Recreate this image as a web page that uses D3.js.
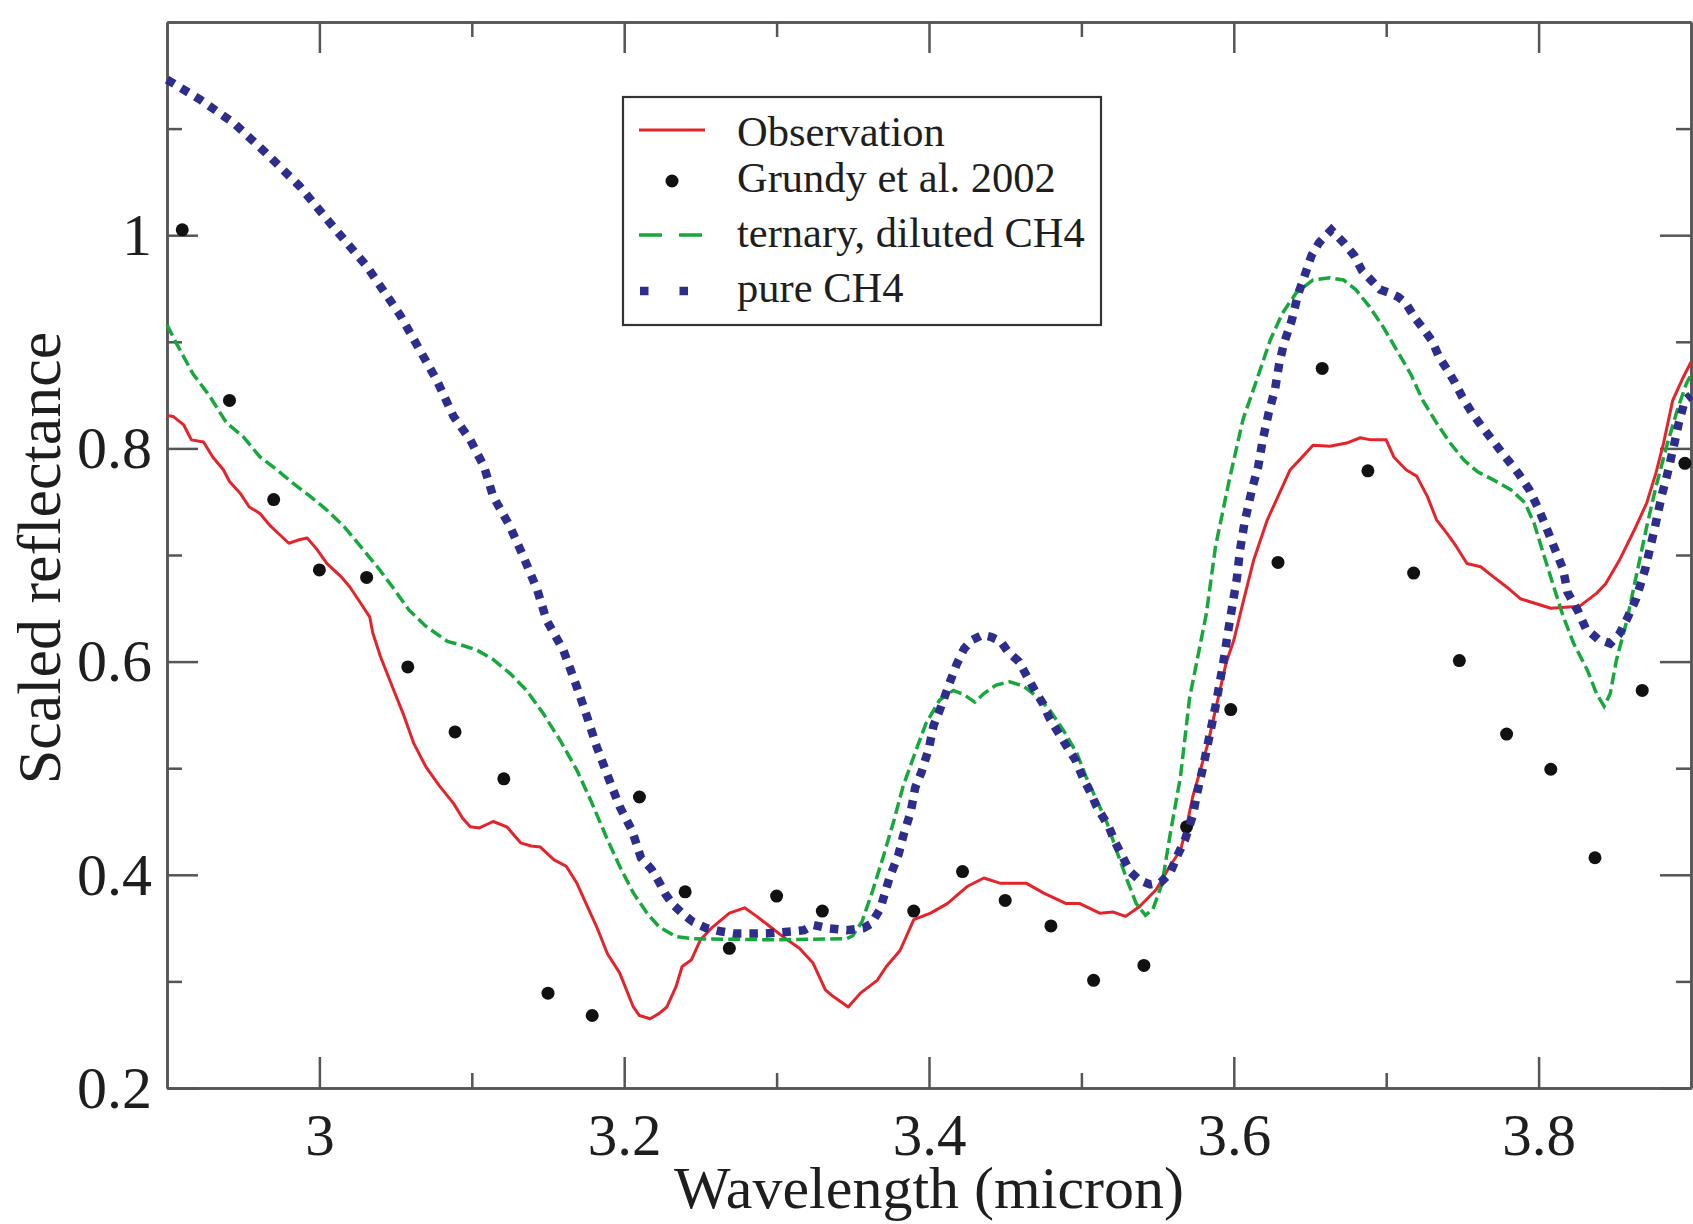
<!DOCTYPE html>
<html>
<head>
<meta charset="utf-8">
<script src="https://cdnjs.cloudflare.com/ajax/libs/d3/7.8.5/d3.min.js"></script>
<style>
  html, body { margin: 0; padding: 0; background: #fff; }
  #chart text { font-family: "Liberation Serif", "DejaVu Serif", serif; fill: #1e1e1e; }
</style>
</head>
<body>
<div id="chart"></div>
<script>

// wavelength (micron), scaled reflectance
var observation = [
  [2.900,0.831],[2.904,0.830],[2.911,0.822],[2.916,0.808],[2.924,0.806],[2.930,0.792],[2.937,0.780],[2.941,0.769],
  [2.948,0.758],[2.954,0.745],[2.961,0.739],[2.968,0.727],[2.974,0.719],[2.980,0.711],[2.986,0.714],[2.992,0.716],
  [2.998,0.706],[3.005,0.692],[3.014,0.680],[3.020,0.670],[3.027,0.655],[3.033,0.642],[3.035,0.627],[3.040,0.605],
  [3.048,0.576],[3.055,0.551],[3.062,0.523],[3.070,0.501],[3.079,0.483],[3.088,0.467],[3.094,0.453],[3.099,0.445],
  [3.105,0.444],[3.114,0.450],[3.123,0.445],[3.132,0.430],[3.139,0.427],[3.145,0.426],[3.154,0.414],[3.162,0.408],
  [3.169,0.392],[3.175,0.373],[3.182,0.351],[3.189,0.326],[3.197,0.308],[3.206,0.276],[3.210,0.268],[3.217,0.265],
  [3.223,0.270],[3.228,0.276],[3.234,0.295],[3.238,0.314],[3.244,0.320],[3.250,0.339],[3.258,0.351],[3.269,0.364],
  [3.279,0.369],[3.287,0.361],[3.296,0.351],[3.307,0.339],[3.315,0.331],[3.324,0.317],[3.332,0.292],[3.337,0.286],
  [3.347,0.276],[3.355,0.289],[3.366,0.301],[3.372,0.314],[3.381,0.329],[3.390,0.358],[3.401,0.364],[3.412,0.373],
  [3.425,0.389],[3.436,0.397],[3.447,0.392],[3.464,0.392],[3.475,0.383],[3.490,0.373],[3.499,0.373],[3.512,0.364],
  [3.521,0.365],[3.529,0.361],[3.538,0.370],[3.549,0.386],[3.558,0.408],[3.565,0.423],[3.569,0.445],[3.573,0.473],
  [3.578,0.498],[3.583,0.523],[3.588,0.555],[3.595,0.599],[3.600,0.620],[3.606,0.655],[3.613,0.695],[3.622,0.733],
  [3.630,0.758],[3.637,0.780],[3.643,0.789],[3.652,0.803],[3.663,0.802],[3.674,0.805],[3.683,0.810],[3.690,0.808],
  [3.700,0.808],[3.705,0.792],[3.713,0.780],[3.720,0.774],[3.727,0.755],[3.733,0.733],[3.740,0.720],[3.746,0.708],
  [3.753,0.692],[3.762,0.689],[3.770,0.680],[3.779,0.670],[3.788,0.659],[3.797,0.655],[3.808,0.650],[3.827,0.652],
  [3.838,0.664],[3.844,0.673],[3.853,0.695],[3.864,0.727],[3.871,0.749],[3.877,0.777],[3.882,0.805],[3.888,0.845],
  [3.895,0.867],[3.900,0.881]
]

var grundy = [
  [2.910,1.005],[2.941,0.845],[2.970,0.752],[3.000,0.686],[3.031,0.679],[3.058,0.595],[3.089,0.534],[3.121,0.490],
  [3.150,0.289],[3.179,0.268],[3.210,0.473],[3.240,0.384],[3.269,0.331],[3.300,0.380],[3.330,0.366],[3.390,0.366],
  [3.422,0.403],[3.450,0.376],[3.480,0.352],[3.508,0.301],[3.541,0.315],[3.569,0.445],[3.598,0.555],[3.629,0.693],
  [3.658,0.875],[3.688,0.779],[3.718,0.683],[3.748,0.601],[3.779,0.532],[3.808,0.499],[3.837,0.416],[3.868,0.573],
  [3.896,0.786]
]

var ternary = [
  [2.900,0.916],[2.906,0.899],[2.917,0.870],[2.928,0.849],[2.939,0.824],[2.950,0.811],[2.961,0.792],[2.972,0.780],
  [2.983,0.767],[2.994,0.755],[3.005,0.742],[3.016,0.727],[3.027,0.708],[3.038,0.689],[3.048,0.670],[3.059,0.648],
  [3.070,0.633],[3.084,0.619],[3.092,0.616],[3.103,0.611],[3.114,0.602],[3.125,0.589],[3.136,0.573],[3.147,0.551],
  [3.158,0.526],[3.169,0.498],[3.178,0.470],[3.189,0.433],[3.197,0.408],[3.206,0.383],[3.215,0.364],[3.223,0.351],
  [3.234,0.342],[3.245,0.340],[3.300,0.339],[3.346,0.340],[3.350,0.343],[3.356,0.356],[3.363,0.385],[3.370,0.417],
  [3.377,0.451],[3.383,0.483],[3.390,0.511],[3.398,0.542],[3.407,0.564],[3.416,0.573],[3.423,0.569],[3.430,0.562],
  [3.436,0.570],[3.444,0.578],[3.453,0.581],[3.462,0.577],[3.471,0.567],[3.479,0.555],[3.488,0.536],[3.497,0.514],
  [3.503,0.492],[3.510,0.470],[3.517,0.448],[3.523,0.423],[3.530,0.395],[3.536,0.373],[3.542,0.362],[3.547,0.368],
  [3.553,0.392],[3.558,0.436],[3.565,0.492],[3.571,0.566],[3.582,0.645],[3.588,0.708],[3.597,0.770],[3.606,0.827],
  [3.615,0.864],[3.624,0.902],[3.632,0.927],[3.641,0.946],[3.652,0.958],[3.663,0.960],[3.672,0.958],[3.680,0.949],
  [3.689,0.933],[3.698,0.914],[3.707,0.892],[3.716,0.870],[3.724,0.845],[3.733,0.824],[3.742,0.805],[3.751,0.789],
  [3.760,0.778],[3.771,0.770],[3.782,0.761],[3.791,0.749],[3.797,0.730],[3.803,0.702],[3.810,0.670],[3.816,0.643],
  [3.823,0.617],[3.832,0.592],[3.838,0.570],[3.843,0.558],[3.847,0.570],[3.851,0.601],[3.858,0.639],[3.864,0.680],
  [3.871,0.727],[3.877,0.764],[3.884,0.802],[3.891,0.836],[3.897,0.861],[3.900,0.869]
]

var pureCH4 = [
  [2.900,1.146],[2.922,1.127],[2.944,1.105],[2.965,1.077],[2.987,1.046],[3.009,1.008],[3.031,0.971],[3.053,0.925],
  [3.064,0.897],[3.077,0.864],[3.088,0.830],[3.099,0.808],[3.108,0.783],[3.114,0.755],[3.125,0.727],[3.134,0.698],
  [3.143,0.667],[3.149,0.639],[3.160,0.611],[3.168,0.580],[3.175,0.551],[3.182,0.520],[3.191,0.486],[3.197,0.464],
  [3.205,0.442],[3.211,0.416],[3.218,0.405],[3.223,0.393],[3.227,0.382],[3.232,0.372],[3.238,0.364],[3.245,0.356],
  [3.254,0.350],[3.263,0.347],[3.272,0.345],[3.293,0.345],[3.311,0.347],[3.318,0.348],[3.324,0.353],[3.333,0.350],
  [3.346,0.348],[3.357,0.350],[3.362,0.354],[3.368,0.368],[3.374,0.397],[3.380,0.419],[3.383,0.436],[3.388,0.459],
  [3.391,0.482],[3.395,0.496],[3.400,0.519],[3.403,0.540],[3.408,0.558],[3.413,0.578],[3.418,0.597],[3.423,0.612],
  [3.428,0.620],[3.435,0.625],[3.441,0.623],[3.447,0.619],[3.452,0.609],[3.459,0.600],[3.464,0.587],[3.469,0.574],
  [3.475,0.560],[3.479,0.547],[3.485,0.533],[3.491,0.519],[3.496,0.508],[3.501,0.491],[3.506,0.477],[3.510,0.464],
  [3.518,0.445],[3.522,0.431],[3.527,0.417],[3.532,0.403],[3.538,0.395],[3.545,0.391],[3.552,0.393],[3.558,0.401],
  [3.563,0.418],[3.568,0.433],[3.573,0.455],[3.576,0.477],[3.580,0.502],[3.583,0.523],[3.588,0.558],[3.593,0.598],
  [3.596,0.626],[3.599,0.652],[3.602,0.678],[3.604,0.704],[3.607,0.730],[3.612,0.762],[3.616,0.783],[3.619,0.808],
  [3.623,0.834],[3.627,0.855],[3.630,0.881],[3.633,0.899],[3.638,0.920],[3.642,0.944],[3.646,0.960],[3.651,0.981],
  [3.656,0.993],[3.664,1.005],[3.672,0.993],[3.679,0.981],[3.684,0.967],[3.690,0.958],[3.696,0.949],[3.702,0.946],
  [3.708,0.942],[3.713,0.936],[3.719,0.922],[3.724,0.913],[3.730,0.901],[3.735,0.885],[3.740,0.874],[3.745,0.862],
  [3.750,0.848],[3.756,0.834],[3.763,0.820],[3.769,0.809],[3.776,0.796],[3.781,0.787],[3.787,0.776],[3.794,0.761],
  [3.800,0.743],[3.805,0.726],[3.810,0.708],[3.816,0.687],[3.819,0.665],[3.826,0.647],[3.831,0.631],[3.839,0.621],
  [3.847,0.617],[3.853,0.626],[3.858,0.640],[3.864,0.659],[3.870,0.687],[3.876,0.724],[3.881,0.757],[3.884,0.773],
  [3.889,0.804],[3.892,0.824],[3.896,0.845],[3.900,0.850]
]

var xMajor = [3.0, 3.2, 3.4, 3.6, 3.8]
var xMinor = [3.1, 3.3, 3.5, 3.7]
var yMajor = [0.2, 0.4, 0.6, 0.8, 1.0]
var yMinor = [0.3, 0.5, 0.7, 0.9, 1.1]

var legendLabels = ["Observation", "Grundy et al. 2002", "ternary, diluted CH4", "pure CH4"]

var width = 1693
var height = 1224

var red = "#e4232b"
var green = "#17a83b"
var blue = "#2d2d8c"
var axisColor = "#555"

var x = d3.scaleLinear().domain([2.9, 3.9]).range([167, 1691])
var y = d3.scaleLinear().domain([0.2, 1.2]).range([1088, 22])

var svg = d3.select("#chart")
  .append("svg")
  .attr("width", width)
  .attr("height", height)
  .attr("viewBox", `0 0 ${width} ${height}`)

var fmt = d3.format("~g")

// axes: ticks point inwards on all four sides
function styleAxis(g) {
  g.select(".domain").attr("stroke", axisColor).attr("stroke-width", 2.5)
  g.selectAll(".tick line").attr("stroke", axisColor).attr("stroke-width", 2.5)
}

svg.append("g")
  .attr("transform", "translate(0," + y(0.2) + ")")
  .call(d3.axisBottom(x).tickValues(xMinor).tickSize(-15).tickSizeOuter(0).tickFormat(""))
  .call(styleAxis)

svg.append("g")
  .attr("transform", "translate(0," + y(0.2) + ")")
  .call(d3.axisBottom(x).tickValues(xMajor).tickSize(-31).tickSizeOuter(0).tickPadding(25).tickFormat(fmt))
  .call(styleAxis)
  .call(g => g.selectAll("text").attr("font-size", 59).attr("fill", "#1e1e1e"))

svg.append("g")
  .attr("transform", "translate(0," + y(1.2) + ")")
  .call(d3.axisTop(x).tickValues(xMinor).tickSize(-15).tickSizeOuter(0).tickFormat(""))
  .call(styleAxis)

svg.append("g")
  .attr("transform", "translate(0," + y(1.2) + ")")
  .call(d3.axisTop(x).tickValues(xMajor).tickSize(-31).tickSizeOuter(0).tickFormat(""))
  .call(styleAxis)

svg.append("g")
  .attr("transform", "translate(" + x(2.9) + ",0)")
  .call(d3.axisLeft(y).tickValues(yMinor).tickSize(-15).tickSizeOuter(0).tickFormat(""))
  .call(styleAxis)

svg.append("g")
  .attr("transform", "translate(" + x(2.9) + ",0)")
  .call(d3.axisLeft(y).tickValues(yMajor).tickSize(-31).tickSizeOuter(0).tickPadding(15).tickFormat(fmt))
  .call(styleAxis)
  .call(g => g.selectAll("text").attr("font-size", 60).attr("fill", "#1e1e1e"))

svg.append("g")
  .attr("transform", "translate(" + x(3.9) + ",0)")
  .call(d3.axisRight(y).tickValues(yMinor).tickSize(-15).tickSizeOuter(0).tickFormat(""))
  .call(styleAxis)

svg.append("g")
  .attr("transform", "translate(" + x(3.9) + ",0)")
  .call(d3.axisRight(y).tickValues(yMajor).tickSize(-31).tickSizeOuter(0).tickFormat(""))
  .call(styleAxis)

// axis titles
svg.append("text")
  .attr("x", (x(2.9) + x(3.9)) / 2)
  .attr("y", 1208)
  .attr("text-anchor", "middle")
  .attr("font-size", 60)
  .text("Wavelength (micron)")

svg.append("text")
  .attr("transform", "translate(60," + 558 + ") rotate(-90)")
  .attr("text-anchor", "middle")
  .attr("font-size", 62)
  .text("Scaled reflectance")

// series
var line = d3.line()
  .x(d => x(d[0]))
  .y(d => y(d[1]))

var plot = svg.append("g")

plot.append("path")
  .datum(observation)
  .attr("d", line)
  .attr("fill", "none")
  .attr("stroke", red)
  .attr("stroke-width", 3)
  .attr("stroke-linejoin", "round")

plot.append("g")
  .selectAll("circle")
  .data(grundy)
  .join("circle")
  .attr("cx", d => x(d[0]))
  .attr("cy", d => y(d[1]))
  .attr("r", 6.5)
  .attr("fill", "#111")

plot.append("path")
  .datum(ternary)
  .attr("d", line)
  .attr("fill", "none")
  .attr("stroke", green)
  .attr("stroke-width", 3.5)
  .attr("stroke-dasharray", "12,5")

plot.append("path")
  .datum(pureCH4)
  .attr("d", line)
  .attr("fill", "none")
  .attr("stroke", blue)
  .attr("stroke-width", 8.5)
  .attr("stroke-dasharray", "8.5,8")

// legend
var legend = svg.append("g")

legend.append("rect")
  .attr("x", 623)
  .attr("y", 97)
  .attr("width", 478)
  .attr("height", 228)
  .attr("fill", "#fff")
  .attr("stroke", "#333")
  .attr("stroke-width", 2.2)

var rows = [146, 192, 247, 302]

legend.append("line")
  .attr("x1", 639).attr("x2", 705)
  .attr("y1", rows[0] - 16).attr("y2", rows[0] - 16)
  .attr("stroke", red).attr("stroke-width", 3)

legend.append("circle")
  .attr("cx", 672).attr("cy", rows[1] - 11)
  .attr("r", 6.5).attr("fill", "#111")

legend.append("line")
  .attr("x1", 639).attr("x2", 705)
  .attr("y1", rows[2] - 12).attr("y2", rows[2] - 12)
  .attr("stroke", green).attr("stroke-width", 3.5)
  .attr("stroke-dasharray", "23,17")

legend.append("line")
  .attr("x1", 640).attr("x2", 706)
  .attr("y1", rows[3] - 11).attr("y2", rows[3] - 11)
  .attr("stroke", blue).attr("stroke-width", 8.5)
  .attr("stroke-dasharray", "8.5,31")

legend.selectAll("text.label")
  .data(legendLabels)
  .join("text")
  .attr("class", "label")
  .attr("x", 737)
  .attr("y", (d, i) => rows[i])
  .attr("font-size", 42.5)
  .text(d => d)

</script>
</body>
</html>
